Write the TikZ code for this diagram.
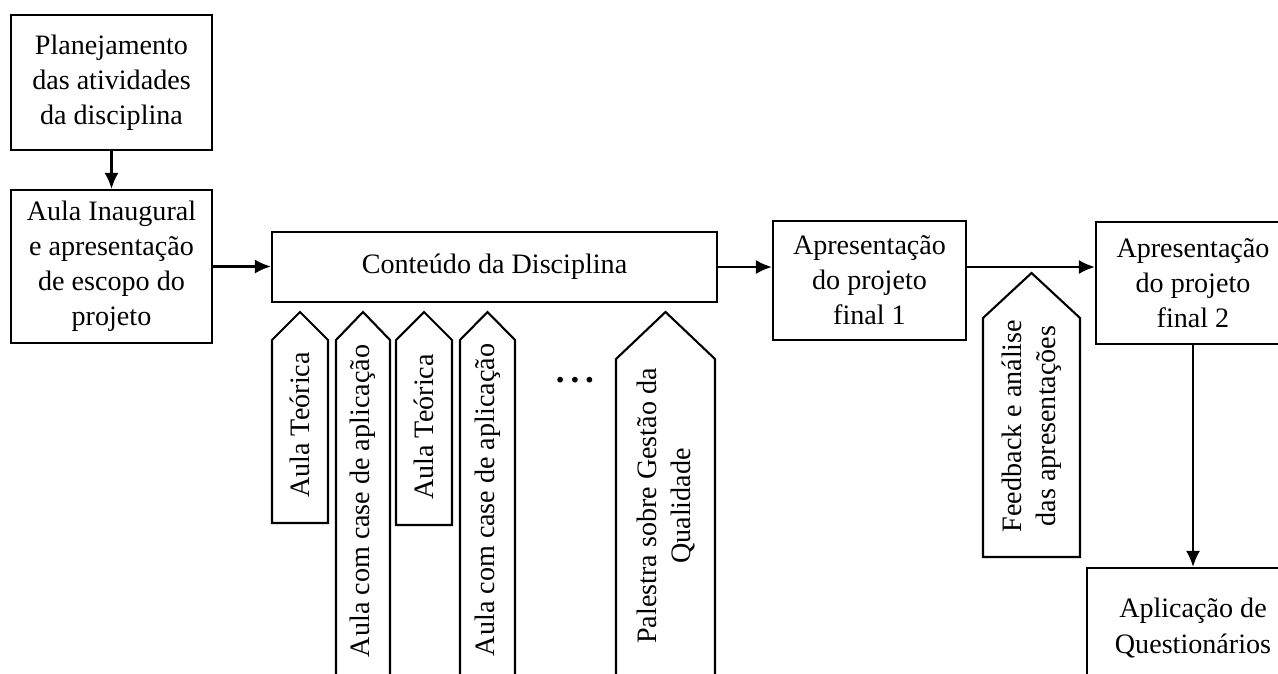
\documentclass[tikz,border=0pt]{standalone}
\usepackage{fontspec}
\setmainfont{Liberation Serif}
\usetikzlibrary{arrows.meta,calc}

\begin{document}
\begin{tikzpicture}[x=0.02cm,y=-0.02cm,
	box/.style={draw,line width=1.2pt,align=center,inner sep=0pt,font=\fontsize{16}{20}\selectfont},
	conn/.style={line width=1.3pt,-{Latex[length=3.2mm,width=2.8mm]}},
	tag/.style={line width=1.2pt},
	vtext/.style={rotate=90,align=center,inner sep=0pt,font=\fontsize{16}{19.5}\selectfont}]
	\useasboundingbox (0,0) rectangle (1278,673);
	\fill[white] (0,0) rectangle (1278,673);
	\clip (0,0) rectangle (1278,673);
	% boxes
	\node[box,minimum width=4.02cm,minimum height=2.7cm] (plan) at (111.5,82.5) {Planejamento\\das atividades\\da disciplina};
	\node[box,minimum width=4.02cm,minimum height=3.06cm] (inaug) at (111.5,266.5) {Aula Inaugural\\e apresentação\\de escopo do\\projeto};
	\node[box,minimum width=8.9cm,minimum height=1.4cm] (cont) at (494.5,267) {Conteúdo da Disciplina};
	\node[box,minimum width=3.86cm,minimum height=2.38cm] (fin1) at (869.5,280.5) {Apresentação\\do projeto\\final 1};
	\node[box,minimum width=3.88cm,minimum height=2.44cm] (fin2) at (1193,283) {Apresentação\\do projeto\\final 2};
	\node[box,minimum width=4.24cm,minimum height=2.4cm] (quest) at (1193,628) {Aplicação de\\Questionários};
	% arrows
	\draw[conn] (plan) -- (inaug);
	\draw[conn] (inaug.east) -- (inaug.east -| cont.west);
	\draw[conn] (cont.east) -- (cont.east -| fin1.west);
	\draw[conn] (cont.east -| fin1.east) -- (cont.east -| fin2.west);
	\draw[conn] (fin2) -- (quest);
	% tags under the content box
	\draw[tag] (272,523) -- (272,340) -- (300,312) -- (328,340) -- (328,523) -- cycle;
	\draw[tag] (336,700) -- (336,340) -- (363,312) -- (390,340) -- (390,700);
	\draw[tag] (396,525) -- (396,340) -- (424,312) -- (452,340) -- (452,525) -- cycle;
	\draw[tag] (460,700) -- (460,340) -- (487.5,312) -- (515,340) -- (515,700);
	\draw[tag] (616,700) -- (616,359) -- (665.5,312) -- (715,359) -- (715,700);
	\draw[tag] (983,557) -- (983,318) -- (1031.5,273) -- (1080,318) -- (1080,557) -- cycle;
	\node[vtext] (teo1) at (300,425) {Aula Teórica};
	\node[vtext] (case1) at (363,501) {Aula com case de aplicação};
	\node[vtext] (teo2) at (424,427) {Aula Teórica};
	\node[vtext] (case2) at (487.5,500) {Aula com case de aplicação};
	\node[font=\fontsize{20}{20}\selectfont\bfseries] (dots) at (575,380) {.\,.\,.};
	\node[vtext] (pal) at (666,506) {Palestra sobre Gestão da\\Qualidade};
	\node[vtext] (feed) at (1031.5,426) {Feedback e análise\\das apresentações};
\end{tikzpicture}
\end{document}
